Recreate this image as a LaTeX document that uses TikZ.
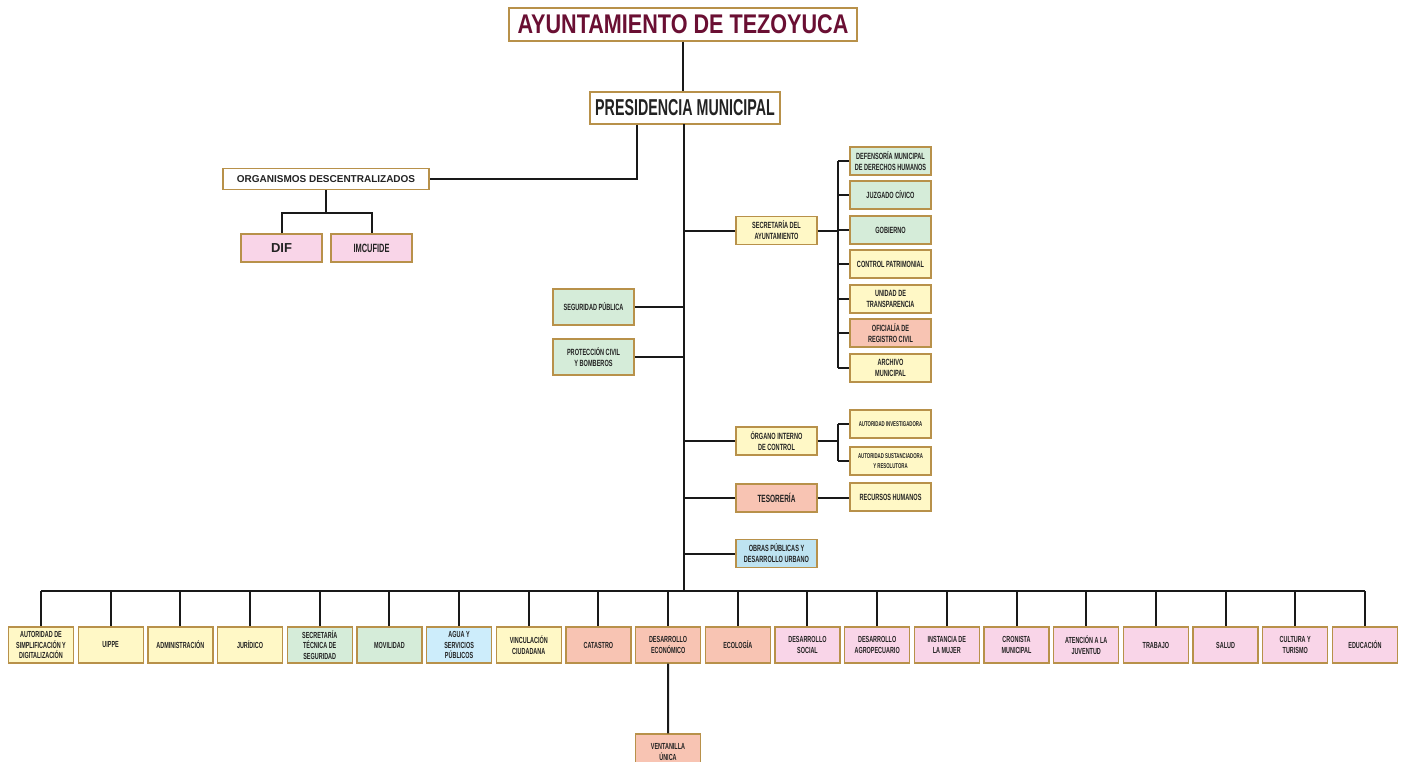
\documentclass[tikz,border=0pt]{standalone}
\usepackage{fontspec}
\setmainfont{Liberation Sans}
\newfontfamily\condf[FakeStretch=0.62]{Liberation Sans}
\newfontfamily\titlef[FakeStretch=0.8]{Liberation Sans}
\definecolor{bordc}{HTML}{B8914A}
\definecolor{yel}{HTML}{FFF8C6}
\definecolor{grn}{HTML}{D5ECD9}
\definecolor{sal}{HTML}{F8C4B3}
\definecolor{pnk}{HTML}{F9D5E8}
\definecolor{blu}{HTML}{BEE3F1}
\definecolor{agua}{HTML}{CDEDFB}
\definecolor{maroon}{HTML}{6A0F33}
\definecolor{txt}{HTML}{222222}
\tikzset{
  box/.style={draw=bordc, line width=1.3pt, inner sep=0pt, align=center, text=txt},
  sbox/.style={box, minimum width=81pt, minimum height=28pt, font=\condf\bfseries\fontsize{9}{11}\selectfont},
  bbox/.style={box, minimum width=65pt, minimum height=36pt, font=\condf\bfseries\fontsize{8.8}{10.8}\selectfont},
  conn/.style={line width=2pt, draw=black!90, line join=miter}
}
\begin{document}
\begin{tikzpicture}[x=1pt,y=-1pt]
\useasboundingbox (0,0) rectangle (1402,761);
% title
\node[box, fill=white, minimum width=348pt, minimum height=33pt, font=\titlef\bfseries\fontsize{27}{30}\selectfont, text=maroon] (title) at (683,24.5) {AYUNTAMIENTO DE TEZOYUCA};
\node[box, fill=white, minimum width=190pt, minimum height=32pt, font=\condf\bfseries\fontsize{23}{26}\selectfont] (pres) at (685,108) {PRESIDENCIA MUNICIPAL};
% organismos
\node[box, fill=white, minimum width=206pt, minimum height=21pt, font=\bfseries\fontsize{10}{12}\selectfont] (org) at (326,179) {ORGANISMOS DESCENTRALIZADOS};
\node[box, fill=pnk, minimum width=81pt, minimum height=28pt, font=\bfseries\fontsize{13}{15}\selectfont] (dif) at (281.5,248) {DIF};
\node[box, fill=pnk, minimum width=81pt, minimum height=28pt, font=\condf\bfseries\fontsize{12}{14}\selectfont] (imc) at (371.5,248) {IMCUFIDE};
% trunk coordinates
\coordinate (ttop) at (684,124);
\coordinate (bus) at (684,591);
\coordinate (oj) at (637,179);
% secretaria
\node[sbox, fill=yel] (sec) at (776.5,230.5) {SECRETARÍA DEL\\AYUNTAMIENTO};
\node[sbox, fill=grn] (r1) at (890.5,161) {DEFENSORÍA MUNICIPAL\\DE DERECHOS HUMANOS};
\node[sbox, fill=grn] (r2) at (890.5,195) {JUZGADO CÍVICO};
\node[sbox, fill=grn] (r3) at (890.5,230) {GOBIERNO};
\node[sbox, fill=yel] (r4) at (890.5,264) {CONTROL PATRIMONIAL};
\node[sbox, fill=yel] (r5) at (890.5,299) {UNIDAD DE\\TRANSPARENCIA};
\node[sbox, fill=sal] (r6) at (890.5,333) {OFICIALÍA DE\\REGISTRO CIVIL};
\node[sbox, fill=yel] (r7) at (890.5,368) {ARCHIVO\\MUNICIPAL};
\coordinate (sj) at (838,230.5);
% left side
\node[sbox, fill=grn, minimum height=36pt] (seg) at (593.5,307) {SEGURIDAD PÚBLICA};
\node[sbox, fill=grn, minimum height=36pt] (pc) at (593.5,357) {PROTECCIÓN CIVIL\\Y BOMBEROS};
% organo interno
\node[sbox, fill=yel] (oic) at (776.5,441) {ÓRGANO INTERNO\\DE CONTROL};
\node[sbox, fill=yel, font=\condf\bfseries\fontsize{7}{9.5}\selectfont] (ai) at (890.5,424) {AUTORIDAD INVESTIGADORA};
\node[sbox, fill=yel, font=\condf\bfseries\fontsize{7}{9.5}\selectfont] (as) at (890.5,461) {AUTORIDAD SUSTANCIADORA\\Y RESOLUTORA};
\coordinate (oj2) at (838,441);
\node[sbox, fill=sal, font=\condf\bfseries\fontsize{10.5}{12}\selectfont] (tes) at (776.5,498) {TESORERÍA};
\node[sbox, fill=yel] (rh) at (890.5,497) {RECURSOS HUMANOS};
\node[sbox, fill=blu] (obr) at (776.5,553.5) {OBRAS PÚBLICAS Y\\DESARROLLO URBANO};
% bottom row
\foreach \i/\t/\c in {
 0/{AUTORIDAD DE\\SIMPLIFICACIÓN Y\\DIGITALIZACIÓN}/yel,
 1/{UIPPE}/yel,
 2/{ADMINISTRACIÓN}/yel,
 3/{JURÍDICO}/yel,
 4/{SECRETARÍA\\TÉCNICA DE\\SEGURIDAD}/grn,
 5/{MOVILIDAD}/grn,
 6/{AGUA Y\\SERVICIOS\\PÚBLICOS}/agua,
 7/{VINCULACIÓN\\CIUDADANA}/yel,
 8/{CATASTRO}/sal,
 9/{DESARROLLO\\ECONÓMICO}/sal,
 10/{ECOLOGÍA}/sal,
 11/{DESARROLLO\\SOCIAL}/pnk,
 12/{DESARROLLO\\AGROPECUARIO}/pnk,
 13/{INSTANCIA DE\\LA MUJER}/pnk,
 14/{CRONISTA\\MUNICIPAL}/pnk,
 15/{ATENCIÓN A LA\\JUVENTUD}/pnk,
 16/{TRABAJO}/pnk,
 17/{SALUD}/pnk,
 18/{CULTURA Y\\TURISMO}/pnk,
 19/{EDUCACIÓN}/pnk}{
  \node[bbox, fill=\c] (b\i) at ({41+\i*69.68},645) {\t};
  \draw[conn] (b\i.north |- bus) -- (b\i.north);
}
\node[bbox, fill=sal] (vu) at (668,752) {VENTANILLA\\ÚNICA};
% connectors
\draw[conn] (title) -- (title.south |- pres.north);
\draw[conn] (ttop) -- (bus);
\draw[conn] (b0.north |- bus) -- (b19.north |- bus);
\draw[conn] (oj |- pres.south) -- (oj) -- (org.east);
\draw[conn] (org.south) -- ++(0,23) coordinate (oj3);
\draw[conn] (dif.north) |- (oj3) -| (imc.north);
\draw[conn] (sec.west -| ttop) -- (sec.west);
\draw[conn] (sec.east) -- (sj);
\draw[conn] (sj |- r1) -- (sj |- r7);
\foreach \r in {r1,r2,r3,r4,r5,r6,r7} \draw[conn] (sj |- \r) -- (\r.west);
\draw[conn] (seg.east) -- (seg.east -| ttop);
\draw[conn] (pc.east) -- (pc.east -| ttop);
\draw[conn] (oic.west -| ttop) -- (oic.west);
\draw[conn] (oic.east) -- (oj2);
\draw[conn] (oj2 |- ai) -- (oj2 |- as);
\draw[conn] (oj2 |- ai) -- (ai.west);
\draw[conn] (oj2 |- as) -- (as.west);
\draw[conn] (tes.west -| ttop) -- (tes.west);
\draw[conn] (tes.east) -- (tes.east -| rh.west);
\draw[conn] (obr.west -| ttop) -- (obr.west);
\draw[conn] (b9.south) -- (vu.north);
\end{tikzpicture}
\end{document}
